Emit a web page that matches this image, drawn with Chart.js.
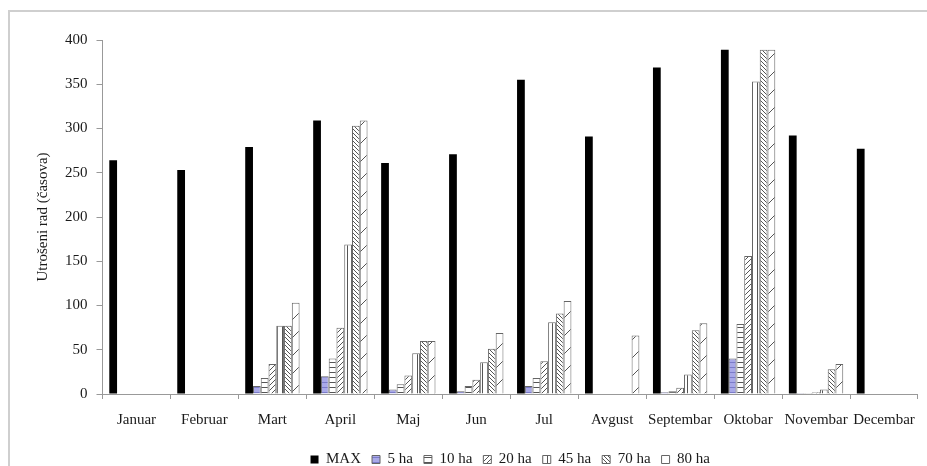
<!DOCTYPE html>
<html>
<head>
<meta charset="utf-8">
<script src="https://cdn.jsdelivr.net/npm/chart.js@4"></script>
<style>
  html, body { margin: 0; padding: 0; background: #fff; }
  #wrap { position: relative; width: 927px; height: 466px; }
  #frame { position: absolute; left: 8px; top: 10px; width: 940px; height: 480px;
           border-left: 2px solid #cfcfcf; border-top: 2px solid #cfcfcf; }
  canvas { position: absolute; left: 0; top: 0; }
</style>
</head>
<body>
<div id="wrap">
  <div id="frame"></div>
  <canvas id="chart" width="927" height="466"></canvas>
</div>
<script>
const months = ['Januar', 'Februar', 'Mart', 'April', 'Maj', 'Jun', 'Jul',
                'Avgust', 'Septembar', 'Oktobar', 'Novembar', 'Decembar'];
const seriesNames = ['MAX', '5 ha', '10 ha', '20 ha', '45 ha', '70 ha', '80 ha'];

const maxHours = [264, 253, 279, 309, 261, 271, 355, 291, 369, 389, 292, 277];
const ha5  = [0, 0, 9, 20, 5, 3, 9, 0, 2, 40, 1, 0];
const ha10 = [0, 0, 18, 40, 11, 9, 18, 0, 3, 79, 1, 0];
const ha20 = [0, 0, 34, 75, 21, 16, 37, 0, 7, 156, 2, 0];
const ha45 = [0, 0, 77, 169, 46, 36, 81, 0, 22, 353, 5, 0];
const ha70 = [0, 0, 77, 303, 60, 51, 91, 0, 72, 389, 28, 0];
const ha80 = [0, 0, 103, 309, 60, 69, 105, 66, 80, 389, 34, 0];

const yTicks = [0, 50, 100, 150, 200, 250, 300, 350, 400];

// small hatch tiles
function pattern(kind) {
    const c = document.createElement('canvas');
    const n = kind === 'sparse' ? 18 : (kind === 'dense' ? 4 : 5);
    c.width = n; c.height = n;
    const g = c.getContext('2d');
    g.fillStyle = kind === 'blue' ? '#a9a9e8' : '#ffffff';
    g.fillRect(0, 0, n, n);
    g.strokeStyle = kind === 'blue' ? '#7a7ac8' : '#555';
    g.lineWidth = 1;
    g.beginPath();
    if (kind === 'horiz' || kind === 'blue') {
        g.moveTo(0, 2.5); g.lineTo(n, 2.5);
    } else if (kind === 'vert') {
        g.moveTo(2.5, 0); g.lineTo(2.5, n);
    } else if (kind === 'fwd' || kind === 'sparse') {
        g.moveTo(0, n); g.lineTo(n, 0);
        g.moveTo(-1, 1); g.lineTo(1, -1);
        g.moveTo(n - 1, n + 1); g.lineTo(n + 1, n - 1);
    } else if (kind === 'dense') {
        g.moveTo(0, 0); g.lineTo(n, n);
        g.moveTo(-1, n - 1); g.lineTo(1, n + 1);
        g.moveTo(n - 1, -1); g.lineTo(n + 1, 1);
    }
    g.stroke();
    return g.createPattern(c, 'repeat');
}

const fills = ['#000000', pattern('blue'), pattern('horiz'), pattern('fwd'),
               pattern('vert'), pattern('dense'), pattern('sparse')];
const values = [maxHours, ha5, ha10, ha20, ha45, ha70, ha80];

const datasets = seriesNames.map((name, i) => ({
    label: name,
    data: values[i],
    backgroundColor: fills[i],
    borderColor: i === 0 ? '#000' : '#666',
    borderWidth: i === 0 ? 0 : 1,
    borderSkipped: 'bottom'
}));

const serif = '"Liberation Serif", "DejaVu Serif", serif';

new Chart(document.getElementById('chart').getContext('2d'), {
    type: 'bar',
    data: { labels: months, datasets: datasets },
    options: {
        responsive: false,
        animation: false,
        layout: { padding: { left: 30, right: 4, top: 40, bottom: -11 } },
        datasets: { bar: { categoryPercentage: 0.8, barPercentage: 1.0 } },
        scales: {
            x: {
                offset: true,
                grid: { display: true, offset: true, drawOnChartArea: false,
                        tickLength: 5, color: '#999' },
                border: { color: '#999' },
                ticks: { autoSkip: false, maxRotation: 0, color: '#1a1a1a', padding: 12,
                         font: { family: serif, size: 15 } }
            },
            y: {
                min: 0, max: 400,
                afterBuildTicks: axis => { axis.ticks = yTicks.map(v => ({ value: v })); },
                grid: { display: true, drawOnChartArea: false, tickLength: 6, color: '#999' },
                border: { color: '#999' },
                ticks: { color: '#1a1a1a', padding: 9, font: { family: serif, size: 15 } },
                title: { display: true, text: 'Utrošeni rad (časova)', color: '#1a1a1a',
                         font: { family: serif, size: 15 }, padding: 4 }
            }
        },
        plugins: {
            legend: {
                position: 'bottom',
                fullSize: false,
                labels: { boxWidth: 8, boxHeight: 8, padding: 11, color: '#1a1a1a',
                          font: { family: serif, size: 15 } }
            },
            tooltip: { enabled: false }
        }
    }
});
</script>
</body>
</html>
